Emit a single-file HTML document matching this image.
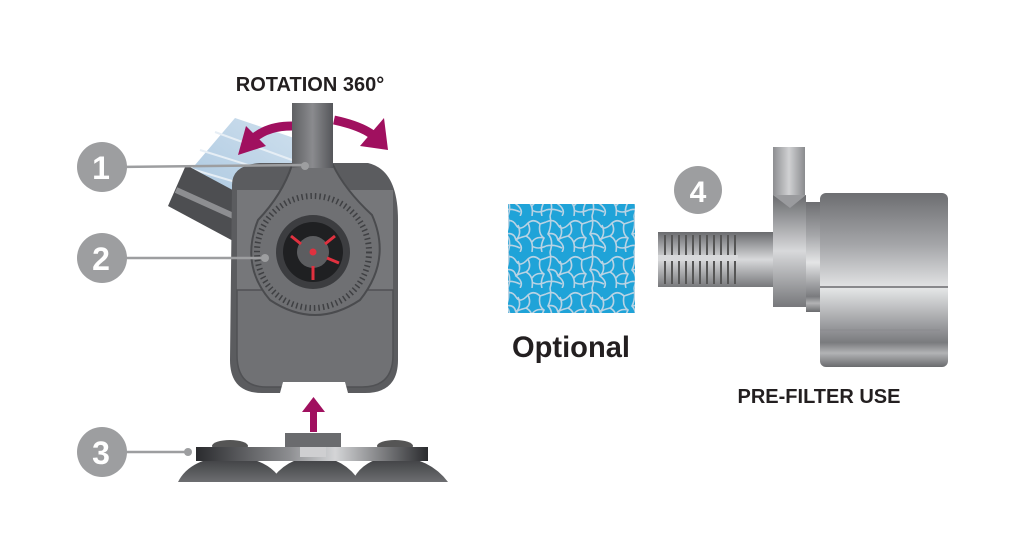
<!DOCTYPE html>
<html><head><meta charset="utf-8"><style>
html,body{margin:0;padding:0;background:#fff;}
svg{display:block;}
text{font-family:"Liberation Sans",sans-serif;font-weight:bold;}
</style></head><body>
<svg width="1024" height="551" viewBox="0 0 1024 551" xmlns="http://www.w3.org/2000/svg">
<defs>
<linearGradient id="vpipe" x1="0" x2="1" y1="0" y2="0">
<stop offset="0" stop-color="#5f6063"/><stop offset="0.5" stop-color="#8a8b8e"/><stop offset="1" stop-color="#55565a"/></linearGradient>
<linearGradient id="hpipe" x1="0" x2="0" y1="0" y2="1">
<stop offset="0" stop-color="#6a6b6e"/><stop offset="0.5" stop-color="#d8d9db"/><stop offset="1" stop-color="#77787b"/></linearGradient>
<linearGradient id="cyl" x1="0" x2="0" y1="0" y2="1">
<stop offset="0" stop-color="#6d6e71"/><stop offset="0.3" stop-color="#a5a6a9"/><stop offset="0.55" stop-color="#e4e5e6"/><stop offset="0.75" stop-color="#9fa0a3"/><stop offset="0.86" stop-color="#7a7b7e"/><stop offset="0.92" stop-color="#b2b3b5"/><stop offset="1" stop-color="#6a6b6e"/></linearGradient>
<linearGradient id="rpipe" x1="0" x2="1" y1="0" y2="0">
<stop offset="0" stop-color="#8d8e91"/><stop offset="0.5" stop-color="#d0d1d3"/><stop offset="1" stop-color="#8a8b8e"/></linearGradient>
<linearGradient id="bar" x1="0" x2="1" y1="0" y2="0">
<stop offset="0" stop-color="#2a2b2e"/><stop offset="0.4" stop-color="#8c8d90"/><stop offset="0.6" stop-color="#d4d5d7"/><stop offset="1" stop-color="#2a2b2e"/></linearGradient>
<linearGradient id="cup" x1="0" x2="0" y1="0" y2="1">
<stop offset="0" stop-color="#3a3b3e"/><stop offset="1" stop-color="#6d6e71"/></linearGradient>
<linearGradient id="fan" x1="0" x2="1" y1="1" y2="0">
<stop offset="0" stop-color="#a9c6df"/><stop offset="1" stop-color="#cfe0ee"/></linearGradient>
<pattern id="foam" width="42" height="36" patternUnits="userSpaceOnUse">
<rect width="42" height="36" fill="#1fa3d8"/>
<path d="M0 6 Q8 2 12 9 T24 7 Q30 2 36 8 L42 6 M4 0 Q6 10 2 18 Q8 24 4 36 M14 9 Q18 18 12 24 Q20 30 16 36 M24 7 Q28 16 22 20 Q30 24 28 36 M36 8 Q34 18 40 22 Q36 30 38 36 M2 18 Q10 16 12 24 M22 20 Q14 22 12 24 M40 22 Q32 20 28 26 M0 30 Q8 28 16 32 M28 30 Q34 34 42 30" fill="none" stroke="#b9d3e4" stroke-width="1.6"/>
</pattern>
</defs>

<text x="310" y="91" font-size="20" text-anchor="middle" fill="#231f20">ROTATION 360°</text>

<!-- blue ghost pipe -->
<path d="M235 118 L300 140 L300 200 L225 210 L178 185 Z" fill="url(#fan)"/>
<path d="M215 132 L292 160 M200 150 L290 178 M188 168 L280 195" stroke="#e6eef5" stroke-width="2"/>

<!-- angled inlet pipe -->
<path d="M168 206 L186 165 L270 210 L250 250 Z" fill="#4d4e51"/>
<path d="M176 190 L260 228" stroke="#8d8e91" stroke-width="6"/>

<!-- body -->
<path d="M232 185 Q232 165 260 163 L368 163 Q398 170 398 220 L398 360 Q398 393 365 393 L262 393 Q230 393 230 360 Z" fill="#5b5c5f"/>
<path d="M237 190 L393 190 L393 355 Q393 387 362 387 L266 387 Q237 387 237 355 Z" fill="#76777a"/>
<path d="M237 290 L393 290 L393 355 Q393 387 362 387 L266 387 Q237 387 237 355 Z" fill="#707174" stroke="#505154" stroke-width="1.5"/>
<path d="M292 165 L333 165 Q345 190 372 215 Q392 260 360 300 Q315 330 270 300 Q240 265 258 220 Q282 195 292 165 Z" fill="#6f7073" stroke="#4a4b4e" stroke-width="2"/>
<circle cx="313" cy="252" r="56" fill="none" stroke="#3f4043" stroke-width="6" stroke-dasharray="1.5 3"/>
<path d="M280 393 L283 382 L345 382 L348 393 Z" fill="#fff"/>
<rect x="292" y="103" width="41" height="65" fill="url(#vpipe)"/>
<circle cx="313" cy="252" r="37" fill="#3c3d40"/>
<circle cx="313" cy="252" r="30" fill="#1f2022"/>
<circle cx="313" cy="252" r="16" fill="#5c5d60"/>
<g stroke="#e0313f" stroke-width="3">
<line x1="313" y1="266" x2="313" y2="280"/>
<line x1="301" y1="244" x2="291" y2="236"/>
<line x1="325" y1="244" x2="335" y2="236"/>
<line x1="327" y1="258" x2="339" y2="263"/>
</g>
<circle cx="313" cy="252" r="3.5" fill="#e0313f"/>

<!-- rotation arrows -->
<path d="M292 126 Q268 126 254 138" stroke="#a0105f" stroke-width="9" fill="none"/>
<path d="M238 155 L246 126 L266 146 Z" fill="#a0105f"/>
<path d="M334 120 Q362 126 374 136" stroke="#a0105f" stroke-width="9" fill="none"/>
<path d="M360 146 L388 150 L384 118 Z" fill="#a0105f"/>

<!-- up arrow -->
<rect x="310" y="410" width="7" height="22" fill="#a0105f"/>
<path d="M302 412 L313.5 397 L325 412 Z" fill="#a0105f"/>

<!-- suction base -->
<path d="M178 482 Q190 458 230 456 Q270 458 282 482 Z" fill="url(#cup)"/>
<path d="M270 482 Q285 458 315 456 Q345 458 360 482 Z" fill="url(#cup)"/>
<path d="M352 482 Q362 458 395 456 Q430 458 448 482 Z" fill="url(#cup)"/>
<ellipse cx="230" cy="446" rx="18" ry="6" fill="#555"/>
<ellipse cx="395" cy="446" rx="18" ry="6" fill="#555"/>
<rect x="196" y="447" width="232" height="14" fill="url(#bar)"/>
<rect x="285" y="433" width="56" height="14" fill="#6a6b6e"/>
<rect x="300" y="447" width="26" height="10" fill="#cfcfd1"/>

<!-- callouts -->
<g fill="#9d9ea0">
<circle cx="102" cy="167" r="25"/><circle cx="102" cy="258" r="25"/><circle cx="102" cy="452" r="25"/>
<circle cx="698" cy="190" r="24"/>
</g>
<g stroke="#9d9ea0" stroke-width="2.5">
<line x1="120" y1="167" x2="305" y2="165"/>
<line x1="120" y1="258" x2="265" y2="258"/>
<line x1="120" y1="452" x2="188" y2="452"/>
</g>
<circle cx="305" cy="166" r="4" fill="#9d9ea0"/>
<circle cx="265" cy="258" r="4" fill="#9d9ea0"/>
<circle cx="188" cy="452" r="4" fill="#9d9ea0"/>
<g fill="#fff" font-size="32" text-anchor="middle">
<text x="101" y="179">1</text><text x="101" y="270">2</text><text x="101" y="464">3</text>
<text x="698" y="202" font-size="30">4</text>
</g>

<rect x="508" y="204" width="127" height="109" fill="url(#foam)"/>
<text x="571" y="357" font-size="30" text-anchor="middle" fill="#231f20" textLength="118" lengthAdjust="spacingAndGlyphs">Optional</text>

<!-- right pump -->
<rect x="658" y="232" width="117" height="55" fill="url(#hpipe)"/>
<g stroke="#555" stroke-width="2">
<path d="M665 235 V284 M672 235 V284 M679 235 V284 M686 235 V284 M693 235 V284 M700 235 V284 M707 235 V284 M714 235 V284 M721 235 V284 M728 235 V284 M735 235 V284"/>
</g>
<rect x="658" y="255" width="80" height="6" fill="#d8d9db"/>
<rect x="773" y="147" width="32" height="55" fill="url(#rpipe)"/>
<path d="M773 195 L806 195 L806 307 L773 307 Z" fill="url(#hpipe)"/>
<path d="M773 195 L790 208 L806 195" fill="#9a9b9e"/>
<rect x="806" y="202" width="16" height="110" fill="url(#cyl)"/>
<rect x="820" y="193" width="128" height="174" rx="6" fill="url(#cyl)"/>
<line x1="820" y1="287" x2="948" y2="287" stroke="#6a6b6e" stroke-width="1.5"/>
<line x1="820" y1="330" x2="940" y2="330" stroke="#8a8b8e" stroke-width="1"/>

<text x="819" y="403" font-size="20" text-anchor="middle" fill="#231f20">PRE-FILTER USE</text>
</svg>
</body></html>
